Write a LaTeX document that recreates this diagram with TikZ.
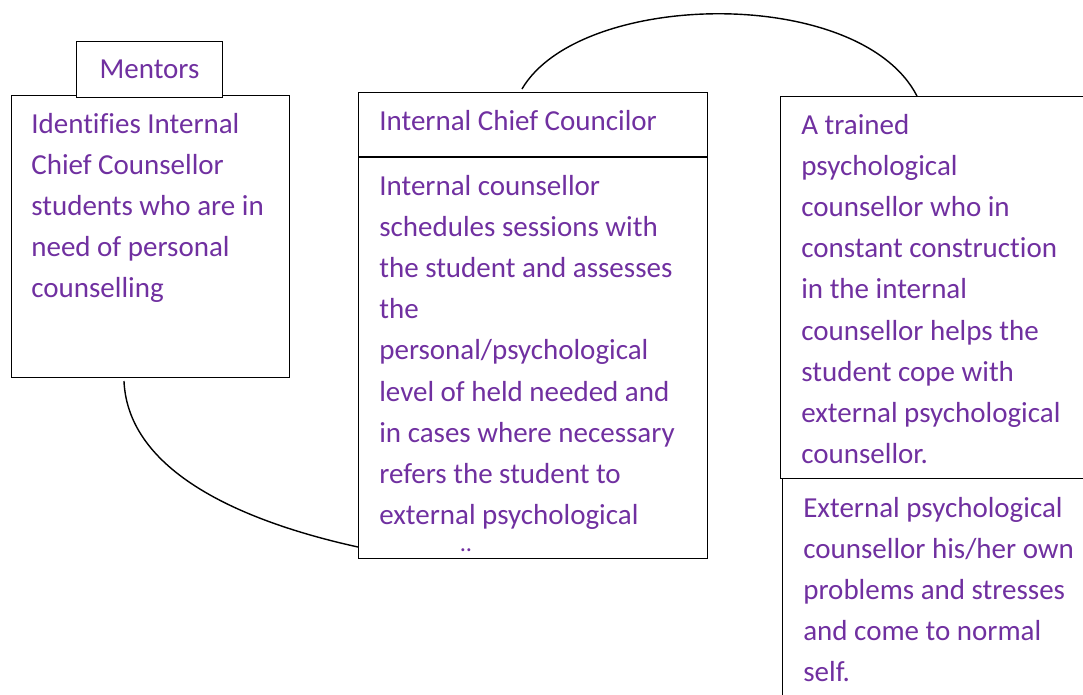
\documentclass[tikz,border=0pt]{standalone}
\usepackage{fontspec}
\setmainfont[Ligatures=NoCommon]{Carlito}
\usepackage{tikz}
\usetikzlibrary{positioning}
\definecolor{txtpurple}{HTML}{7030A0}

\begin{document}
\begin{tikzpicture}[
    x=0.02cm, y=-0.02cm,
    every node/.style={font=\fontsize{16.5}{23.4}\selectfont, text=txtpurple},
    box/.style={draw=black, line width=0.6pt, anchor=north west, inner sep=0},
    txt/.style={anchor=north west, inner sep=0, align=left},
    link/.style={draw=black, line width=0.8pt}
]
\useasboundingbox (0,0) rectangle (1083,694);
\clip (0,0) rectangle (1083,694);

% Mentors column
\node[box, minimum width=5.56cm, minimum height=5.64cm] (leftbox) at (11,95) {};
\node[box, fill=white, minimum width=2.92cm, minimum height=1.12cm] (mentors) at (76,41) {Mentors};
\node[txt] (lefttxt) at ([xshift=0.4cm, yshift=-0.36cm]leftbox.north west)
    {Identifies Internal\\Chief Counsellor\\students who are in\\need of personal\\counselling};

% Internal chief councilor
\node[box, minimum width=6.98cm, minimum height=1.28cm] (title) at (358,92) {};
\node[txt] (titletxt) at ([xshift=0.42cm, yshift=-0.36cm]title.north west) {Internal Chief Councilor};
\node[box, minimum width=6.98cm, minimum height=8.02cm, anchor=north west] (body) at (title.south west) {};
\node[txt] (bodytxt) at ([xshift=0.42cm, yshift=-0.36cm]body.north west)
    {Internal counsellor\\schedules sessions with\\the student and assesses\\the\\personal/psychological\\level of held needed and\\in cases where necessary\\refers the student to\\external psychological};
\node[inner sep=0, font=\fontsize{14}{16}\selectfont] (cut) at (466,550) {..};

% External counsellor
\node[box, minimum width=6.6cm, minimum height=7.64cm] (upper) at (780,96) {};
\node[txt] (uppertxt) at ([xshift=0.42cm, yshift=-0.36cm]upper.north west)
    {A trained\\psychological\\counsellor who in\\constant construction\\in the internal\\counsellor helps the\\student cope with\\external psychological\\counsellor.};
\node[box, minimum width=6.6cm, minimum height=4.84cm] (lower) at (782,478) {};
\node[txt] (lowertxt) at ([xshift=0.42cm, yshift=-0.38cm]lower.north west)
    {External psychological\\counsellor his/her own\\problems and stresses\\and come to normal\\self.};

% Links
\draw[link] ([xshift=2.26cm, yshift=-0.06cm]leftbox.south west)
    .. controls +(4,90) and +(-118,-26) .. ([yshift=0.24cm]body.south west);
\draw[link] ([xshift=3.28cm, yshift=0.06cm]title.north west)
    .. controls +(58,-99) and +(-57,-111) .. ([xshift=2.74cm]upper.north west);

\end{tikzpicture}
\end{document}
